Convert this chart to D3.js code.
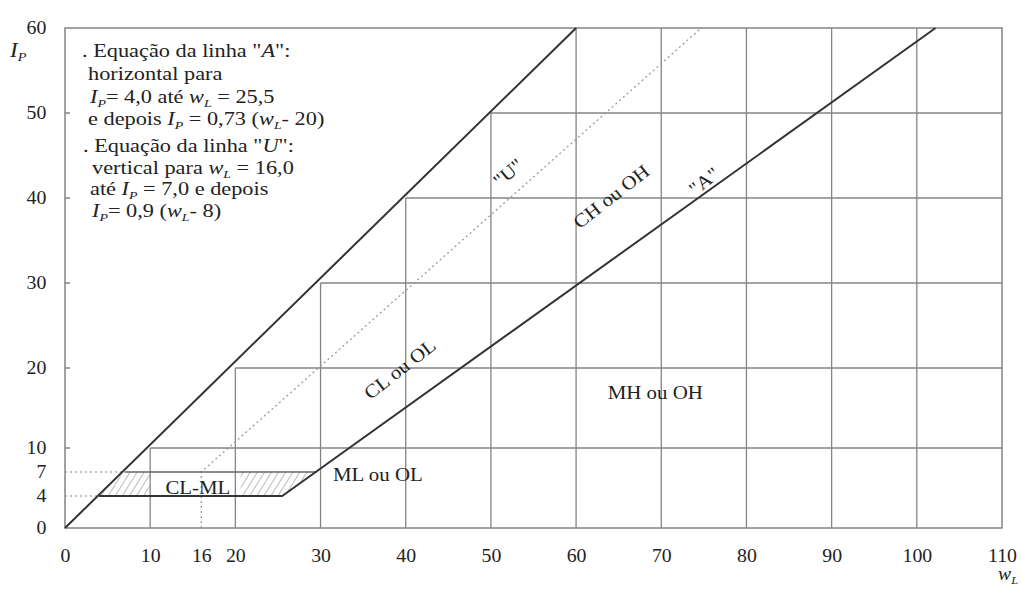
<!DOCTYPE html>
<html>
<head>
<meta charset="utf-8">
<script src="https://cdn.jsdelivr.net/npm/d3@7"></script>
<style>
  body { margin: 0; background: #fff; }
  text { font-family: "Liberation Serif", "Times New Roman", serif; fill: #222; }
</style>
</head>
<body>
<svg id="chart"></svg>
<script>
// plasticity chart data (wL, IP)
const xTicks = [0, 10, 16, 20, 30, 40, 50, 60, 70, 80, 90, 100, 110]
const yTicks = [0, 4, 7, 10, 20, 30, 40, 50, 60]
const gridX = [10, 20, 30, 40, 50, 60, 70, 80, 90, 100]
const gridY = [10, 20, 30, 40, 50]
const limitLine = [[0, 0], [60, 60]]
const aLine = [[4, 4], [25.5, 4], [102.2, 60]]
const uLine = [[16, 0], [16, 7], [74.7, 60]]
const clmlTop = [[7, 7], [29.6, 7]]
const clmlArea = [[4, 4], [25.5, 4], [29.6, 7], [7, 7]]
const clmlGap = [10, 20.6]
const guideLines = [[[0, 7], [7, 7]], [[0, 4], [4, 4]]]
const zoneLabels = [
  { text: 'CL ou OL', wl: 39.3, ip: 19.9, angle: -38 },
  { text: 'CH ou OH', wl: 64.1, ip: 40.2, angle: -38 },
  { text: '"U"', wl: 52.0, ip: 43.0, angle: -40 },
  { text: '"A"', wl: 75.0, ip: 42.0, angle: -38 },
  { text: 'MH ou OH', wl: 69.3, ip: 17.0, angle: 0 },
  { text: 'CL-ML', wl: 15.6, ip: 5.1, angle: 0 }
]
const noteLines = [
  [{ t: '. Equação da linha "' }, { t: 'A', i: 1 }, { t: '":' }],
  [{ t: 'horizontal para' }],
  [{ t: 'I', i: 1 }, { t: 'P', i: 1, sub: 1 }, { t: '= 4,0 até ' }, { t: 'w', i: 1 }, { t: 'L', i: 1, sub: 1 }, { t: ' = 25,5' }],
  [{ t: 'e depois ' }, { t: 'I', i: 1 }, { t: 'P', i: 1, sub: 1 }, { t: ' = 0,73 (' }, { t: 'w', i: 1 }, { t: 'L', i: 1, sub: 1 }, { t: '- 20)' }],
  [{ t: '. Equação da linha "' }, { t: 'U', i: 1 }, { t: '":' }],
  [{ t: 'vertical para ' }, { t: 'w', i: 1 }, { t: 'L', i: 1, sub: 1 }, { t: ' = 16,0' }],
  [{ t: 'até ' }, { t: 'I', i: 1 }, { t: 'P', i: 1, sub: 1 }, { t: ' = 7,0 e depois' }],
  [{ t: 'I', i: 1 }, { t: 'P', i: 1, sub: 1 }, { t: '= 0,9 (' }, { t: 'w', i: 1 }, { t: 'L', i: 1, sub: 1 }, { t: '- 8)' }]
]
const notePos = [[82, 57], [88, 80], [90, 103], [88, 125], [83, 152], [92, 174], [90, 195], [92, 217]]

const W = 1021, H = 595
const svg = d3.select('#chart').attr('width', W).attr('height', H)

const x = d3.scaleLinear().domain([0, 110]).range([65, 1002])
const y = d3.scaleLinear().domain([0, 20, 60]).range([528, 368, 28])
const line = d3.line().x(d => x(d[0])).y(d => y(d[1]))

// text with italic parts and subscripts
function richText(parent, px, py, segs, opts) {
  const g = parent.append('g')
    .attr('transform', `translate(${px},${py}) rotate(${opts.angle || 0}) scale(${opts.sx || 1},1)`)
  const t = g.append('text')
    .attr('font-size', opts.size)
    .attr('text-anchor', opts.anchor || 'start')
  if (opts.middle) t.attr('dominant-baseline', 'central')
  let shifted = 0
  segs.forEach(s => {
    const ts = t.append('tspan').text(s.t)
    if (s.i) ts.attr('font-style', 'italic')
    const want = s.sub ? opts.size * 0.2 : 0
    if (want !== shifted) { ts.attr('dy', want - shifted); shifted = want }
    if (s.sub) ts.attr('font-size', opts.size * 0.62)
  })
  return g
}

// hatch
const defs = svg.append('defs')
defs.append('pattern')
  .attr('id', 'hatch')
  .attr('patternUnits', 'userSpaceOnUse')
  .attr('width', 6).attr('height', 6)
  .attr('patternTransform', 'rotate(32)')
  .append('line')
  .attr('x1', 0).attr('y1', 0).attr('x2', 0).attr('y2', 6)
  .attr('stroke', '#777').attr('stroke-width', 1)

svg.append('path')
  .attr('d', line(clmlArea) + 'Z')
  .attr('fill', 'url(#hatch)')

svg.append('rect')
  .attr('x', x(clmlGap[0])).attr('width', x(clmlGap[1]) - x(clmlGap[0]))
  .attr('y', y(7)).attr('height', y(4) - y(7))
  .attr('fill', '#fff')

// grid, clipped under the IP = wL line
const grid = svg.append('g').attr('stroke', '#848484').attr('stroke-width', 1.3)
grid.selectAll('.gx').data(gridX).join('line')
  .attr('x1', d => x(d)).attr('x2', d => x(d))
  .attr('y1', y(0)).attr('y2', d => y(Math.min(d, 60)))
grid.selectAll('.gy').data(gridY).join('line')
  .attr('x1', d => x(d)).attr('x2', x(110))
  .attr('y1', d => y(d)).attr('y2', d => y(d))

// frame
const frame = svg.append('g').attr('stroke', '#848484').attr('stroke-width', 1.5).attr('fill', 'none')
frame.append('rect')
  .attr('x', x(0)).attr('y', y(60))
  .attr('width', x(110) - x(0)).attr('height', y(0) - y(60))
frame.selectAll('.tk').data(gridY).join('line')
  .attr('x1', x(0)).attr('x2', x(0) + 5)
  .attr('y1', d => y(d)).attr('y2', d => y(d))

// dotted guides and U line
svg.selectAll('.guide').data(guideLines).join('path')
  .attr('d', d => line(d))
  .attr('fill', 'none').attr('stroke', '#888').attr('stroke-width', 1.2)
  .attr('stroke-dasharray', '2,3')
svg.append('path')
  .attr('d', line(uLine))
  .attr('fill', 'none').attr('stroke', '#999').attr('stroke-width', 1.3)
  .attr('stroke-dasharray', '2,3')

// top of CL-ML band
svg.append('path')
  .attr('d', line(clmlTop))
  .attr('fill', 'none').attr('stroke', '#666').attr('stroke-width', 1.5)

// main lines
svg.selectAll('.main').data([limitLine, aLine]).join('path')
  .attr('d', d => line(d))
  .attr('fill', 'none').attr('stroke', '#333').attr('stroke-width', 2)
  .attr('stroke-linejoin', 'round')

// axes (labels only)
const xAxis = svg.append('g')
  .attr('transform', `translate(0,${y(0)})`)
  .call(d3.axisBottom(x).tickValues(xTicks).tickSize(0).tickPadding(21).tickFormat(d3.format('d')))
const yAxis = svg.append('g')
  .attr('transform', `translate(${x(0)},0)`)
  .call(d3.axisLeft(y).tickValues(yTicks).tickSize(0).tickPadding(17).tickFormat(d3.format('d')))
;[xAxis, yAxis].forEach(a => {
  a.select('.domain').remove()
  a.selectAll('text')
    .attr('font-family', '"Liberation Serif", serif')
    .attr('font-size', 18).attr('fill', '#222')
    .attr('transform', 'scale(1.1,1)')
})

// axis titles
richText(svg, 10, 57, [{ t: 'I', i: 1 }, { t: 'P', i: 1, sub: 1 }], { size: 21, sx: 1.1 })
richText(svg, 998, 580, [{ t: 'w', i: 1 }, { t: 'L', i: 1, sub: 1 }], { size: 18, sx: 1.1 })

// notes
noteLines.forEach((segs, i) => {
  richText(svg, notePos[i][0], notePos[i][1], segs, { size: 18, sx: 1.24 })
})

// zone labels
zoneLabels.forEach(l => {
  richText(svg, x(l.wl), y(l.ip), [{ t: l.text }], { size: 19, sx: 1.1, anchor: 'middle', middle: true, angle: l.angle })
})
richText(svg, 333, 481, [{ t: 'ML ou OL' }], { size: 19, sx: 1.1 })
</script>
</body>
</html>
